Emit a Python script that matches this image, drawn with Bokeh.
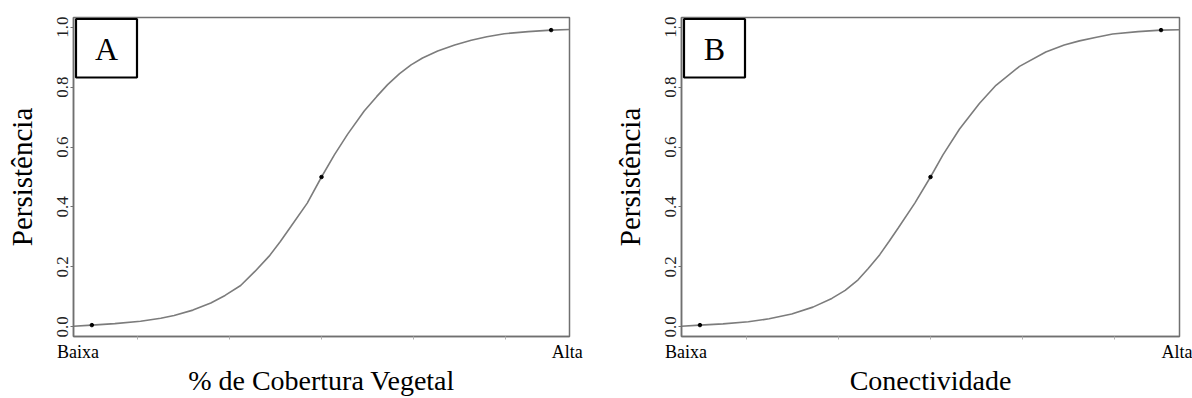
from bokeh.plotting import figure
from bokeh.layouts import row
from bokeh.models import FixedTicker, Label, BoxAnnotation, Range1d
from bokeh.embed import file_html
from bokeh.resources import INLINE

# ---- data ----
xa = [-0.04, 0.0, 0.05, 0.106, 0.15, 0.179, 0.22, 0.259, 0.29, 0.324, 0.355, 0.386, 0.41, 0.433,
      0.469, 0.5, 0.528, 0.557, 0.593, 0.62, 0.644, 0.67, 0.695, 0.72, 0.753, 0.79, 0.826,
      0.86, 0.898, 0.95, 1.0, 1.04]
ya = [0.002, 0.006, 0.011, 0.019, 0.029, 0.038, 0.056, 0.080, 0.105, 0.138, 0.185, 0.236, 0.284, 0.334,
      0.413, 0.5, 0.574, 0.643, 0.72, 0.768, 0.808, 0.845, 0.874, 0.897, 0.92, 0.94, 0.956,
      0.968, 0.978, 0.985, 0.99, 0.992]

xb = [-0.04, 0.0, 0.05, 0.105, 0.15, 0.199, 0.245, 0.286, 0.315, 0.343, 0.365, 0.39, 0.41, 0.43,
      0.466, 0.5, 0.527, 0.563, 0.606, 0.642, 0.693, 0.75, 0.79, 0.823, 0.86, 0.895, 0.95,
      1.0, 1.04]
yb = [0.002, 0.006, 0.010, 0.017, 0.027, 0.043, 0.066, 0.095, 0.122, 0.157, 0.195, 0.241, 0.285, 0.33,
      0.413, 0.5, 0.574, 0.66, 0.745, 0.806, 0.869, 0.917, 0.94, 0.954, 0.966, 0.977, 0.985,
      0.99, 0.991]

pts_x = [0.0, 0.5, 1.0]
pts_ya = [0.006, 0.5, 0.99]
pts_yb = [0.006, 0.5, 0.99]

y_ticks = [0.0, 0.2, 0.4, 0.6, 0.8, 1.0]
y_tick_labels = ["0.0", "0.2", "0.4", "0.6", "0.8", "1.0"]
x_label_pos = [-0.03, 1.035]
x_labels = ["Baixa", "Alta"]
x_minor = [0.1, 0.3, 0.5, 0.7, 0.9]

y_title = "Persistência"
x_title_a = "% de Cobertura Vegetal"
x_title_b = "Conectividade"

FONT = "Liberation Serif"
GRAY = "#707070"
CURVE = "#7c7c7c"


def make_panel(x, y, py, letter, xtitle, width, left, right):
    p = figure(width=width, height=398, title=None,
               x_range=Range1d(-0.04, 1.04), y_range=Range1d(-0.032, 1.032),
               output_backend="svg", toolbar_location=None,
               min_border_left=left, min_border_right=right,
               min_border_top=17, min_border_bottom=62)
    p.grid.visible = False
    p.outline_line_color = GRAY
    p.outline_line_width = 1.5
    p.background_fill_color = "white"
    p.border_fill_color = "white"

    p.line(x, y, line_color=CURVE, line_width=1.6)
    p.scatter(pts_x, py, size=3.5, color="black")

    xa_ = p.xaxis[0]
    xa_.ticker = FixedTicker(ticks=x_label_pos, minor_ticks=x_minor)
    xa_.major_label_overrides = {k: v for k, v in zip(x_label_pos, x_labels)}
    xa_.major_tick_out = 0
    xa_.major_tick_in = 0
    xa_.minor_tick_out = 3
    xa_.minor_tick_in = 0
    xa_.minor_tick_line_color = "#b0b0b0"
    xa_.axis_line_color = GRAY
    xa_.axis_line_width = 1.5
    xa_.major_label_standoff = 2
    xa_.major_label_text_font = FONT
    xa_.major_label_text_font_size = "18px"
    xa_.major_label_text_color = "black"
    xa_.axis_label = xtitle
    xa_.axis_label_text_font = FONT
    xa_.axis_label_text_font_size = "28px"
    xa_.axis_label_text_font_style = "normal"
    xa_.axis_label_text_color = "black"
    xa_.axis_label_standoff = 0

    ya_ = p.yaxis[0]
    ya_.ticker = FixedTicker(ticks=y_ticks)
    ya_.major_label_overrides = {k: v for k, v in zip(y_ticks, y_tick_labels)}
    ya_.major_label_orientation = "vertical"
    ya_.major_tick_out = 3
    ya_.major_tick_in = 0
    ya_.major_tick_line_color = GRAY
    ya_.minor_tick_line_color = None
    ya_.axis_line_color = GRAY
    ya_.axis_line_width = 1.5
    ya_.major_label_standoff = 2
    ya_.major_label_text_font = FONT
    ya_.major_label_text_font_size = "17px"
    ya_.major_label_text_color = "#222222"
    ya_.axis_label = y_title
    ya_.axis_label_text_font = FONT
    ya_.axis_label_text_font_size = "29px"
    ya_.axis_label_text_font_style = "normal"
    ya_.axis_label_text_color = "black"
    ya_.axis_label_standoff = 17

    # panel letter box (screen units relative to the frame)
    box = BoxAnnotation(left=2.5, right=63.5, top=317.5, bottom=259,
                        left_units="screen", right_units="screen",
                        top_units="screen", bottom_units="screen",
                        fill_color="white", fill_alpha=1.0,
                        line_color="black", line_alpha=1.0, line_width=2.2)
    p.add_layout(box)
    p.add_layout(Label(x=33, y=288, x_units="screen", y_units="screen", text=letter,
                       text_align="center", text_baseline="middle",
                       text_font=FONT, text_font_size="32px", text_color="black"))
    return p


pa = make_panel(xa, ya, pts_ya, "A", x_title_a, 600, 73, 31)
pb = make_panel(xb, yb, pts_yb, "B", x_title_b, 592, 81, 13)

layout = row(pa, pb)
open("out.html", "w").write(file_html(layout, INLINE))
